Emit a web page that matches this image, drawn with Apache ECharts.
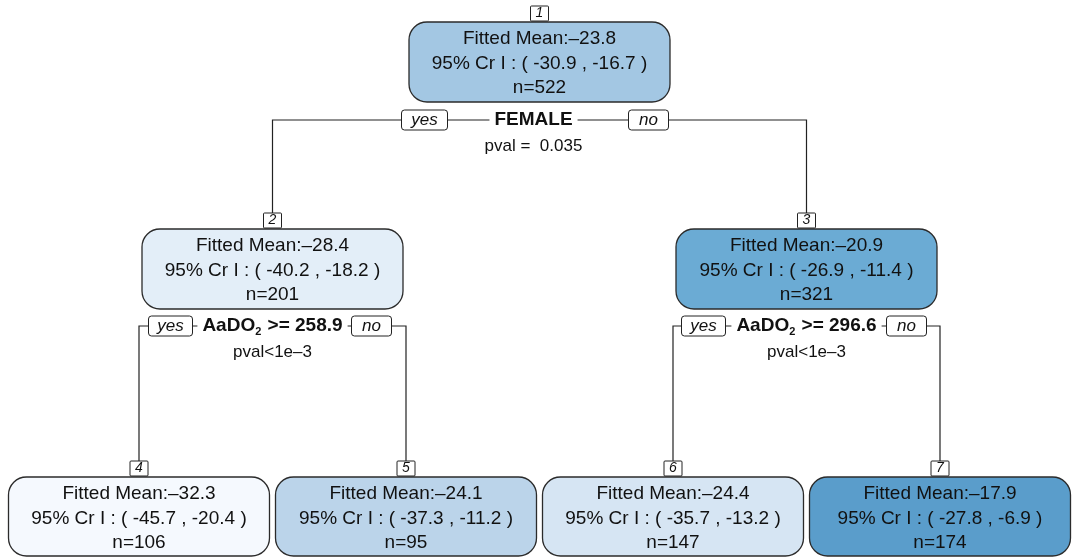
<!DOCTYPE html>
<html><head><meta charset="utf-8">
<script src="https://cdn.jsdelivr.net/npm/echarts@6/dist/echarts.min.js"></script>
<style>html,body{margin:0;padding:0;background:#fff}#c{width:1077px;height:558px}</style>
</head><body><div id="c"></div>
<script>
// ---- data ----
const nodeIds    = [1, 2, 3, 4, 5, 6, 7];
const fittedMean = [-23.8, -28.4, -20.9, -32.3, -24.1, -24.4, -17.9];
const crLow      = [-30.9, -40.2, -26.9, -45.7, -37.3, -35.7, -27.8];
const crHigh     = [-16.7, -18.2, -11.4, -20.4, -11.2, -13.2, -6.9];
const nObs       = [522, 201, 321, 106, 95, 147, 174];
const splitNode  = [1, 2, 3];
const splitVar   = ['FEMALE', 'AaDO2', 'AaDO2'];
const splitValue = [null, 258.9, 296.6];
const splitPval  = ['pval =  0.035', 'pval<1e\u20133', 'pval<1e\u20133'];
const childLeft  = [2, 4, 6];
const childRight = [3, 5, 7];

// ---- layout (styles / positions) ----
const FONT = "'Liberation Sans', Arial, Helvetica, sans-serif";
const palette = ['#f5f9fe', '#e3eef8', '#d6e5f3', '#bbd4ea', '#a3c7e3', '#6babd4', '#5a9dcb'];
const levelTop = [22, 229, 477];
const levelBoxH = [80, 80, 79];
const boxW = 261;
const splitLineY = [120, 326];
const pvalY = [146, 352];
const yesOff = [-115, -102, -103];
const noOff = [109, 99, 100];
const textOff = [-6, 0, 0];
const leafX0 = 139, leafStep = 267;

const kids = {};
splitNode.forEach((p, i) => { kids[p] = [childLeft[i], childRight[i]]; });
const level = {}, xpos = {};
let leafCount = 0;
function layout(id, d) {
  level[id] = d;
  if (kids[id]) {
    kids[id].forEach(k => layout(k, d + 1));
    xpos[id] = (xpos[kids[id][0]] + xpos[kids[id][1]]) / 2;
  } else {
    xpos[id] = leafX0 + leafStep * leafCount++;
  }
}
layout(1, 0);

const sortedMeans = fittedMean.slice().sort((a, b) => a - b);
const colorOf = i => palette[sortedMeans.indexOf(fittedMean[i])];
const fmt = v => (v < 0 ? '\u2013' + Math.abs(v).toFixed(1) : v.toFixed(1));

const nodeData = nodeIds.map(id => [xpos[id], levelTop[level[id]], id]);
const splitData = splitNode.map(id => [xpos[id], splitLineY[level[id]], id]);

function renderNode(params, api) {
  const i = params.dataIndex;
  const id = nodeIds[i];
  const lv = level[id];
  const c = api.coord([api.value(0), api.value(1)]);
  const sz = api.size([boxW, levelBoxH[lv]]);
  const w = sz[0], h = sz[1];
  const x = c[0] - w / 2, y = c[1];
  const txt = (t, ty) => ({
    type: 'text',
    style: { text: t, x: c[0], y: ty, align: 'center', verticalAlign: 'middle',
      fill: '#111', font: '19px ' + FONT }
  });
  return {
    type: 'group',
    children: [
      { type: 'rect', shape: { x: x, y: y, width: w, height: h, r: 18 },
        style: { fill: colorOf(i), stroke: '#2b2b2b', lineWidth: 1.3 } },
      txt('Fitted Mean:' + fmt(fittedMean[i]), y + 17),
      txt('95% Cr I : ( ' + crLow[i].toFixed(1) + ' , ' + crHigh[i].toFixed(1) + ' )', y + 42),
      txt('n=' + nObs[i], y + 66),
      { type: 'rect', shape: { x: c[0] - 9, y: y - 16, width: 18, height: 15, r: 1 },
        style: { fill: '#fff', stroke: '#222', lineWidth: 1 } },
      { type: 'text', style: { text: String(id), x: c[0], y: y - 8.5, align: 'center',
        verticalAlign: 'middle', fill: '#111', font: 'italic 14px ' + FONT } }
    ]
  };
}

function tagBox(cx, cy, label, w) {
  return [
    { type: 'rect', shape: { x: cx - w / 2, y: cy - 10, width: w, height: 20, r: 3 },
      style: { fill: '#fff', stroke: '#222', lineWidth: 1 } },
    { type: 'text', style: { text: label, x: cx, y: cy, align: 'center', verticalAlign: 'middle',
      fill: '#111', font: 'italic 17px ' + FONT } }
  ];
}

function renderSplit(params, api) {
  const i = params.dataIndex;
  const id = splitNode[i];
  const p = api.coord([api.value(0), api.value(1)]);
  const l = api.coord([xpos[childLeft[i]], levelTop[level[childLeft[i]]] - 16]);
  const r = api.coord([xpos[childRight[i]], levelTop[level[childRight[i]]] - 16]);
  const py = api.coord([0, pvalY[level[id]]])[1];
  const lineStyle = { stroke: '#222', lineWidth: 1.2, fill: null };
  let label;
  if (splitValue[i] === null) {
    label = '{b|' + splitVar[i] + '}';
  } else {
    label = '{b|AaDO}{s|2}{b| >= ' + splitValue[i].toFixed(1) + '}';
  }
  return {
    type: 'group',
    children: [
      { type: 'polyline', shape: { points: [[l[0], l[1]], [l[0], p[1]], [r[0], p[1]], [r[0], r[1]]] },
        style: lineStyle },
      { type: 'text', style: {
          text: label, x: p[0] + textOff[i], y: p[1], align: 'center', verticalAlign: 'middle',
          backgroundColor: '#fff', padding: [0, 5],
          rich: {
            b: { font: 'bold 19px ' + FONT, fill: '#111', lineHeight: 22 },
            s: { font: 'bold 11px ' + FONT, fill: '#111', lineHeight: 22, verticalAlign: 'bottom', padding: [9, 1, 0, 0] }
          } } },
      ...tagBox(p[0] + yesOff[i], p[1], 'yes', i === 0 ? 46 : 44),
      ...tagBox(p[0] + noOff[i], p[1], 'no', 40),
      { type: 'text', style: { text: splitPval[i], x: p[0] + textOff[i], y: py, align: 'center',
        verticalAlign: 'middle', fill: '#111', font: '17px ' + FONT } }
    ]
  };
}

const chart = echarts.init(document.getElementById('c'), null, { renderer: 'canvas' });
chart.setOption({
  animation: false,
  backgroundColor: '#fff',
  grid: { left: 0, right: 0, top: 0, bottom: 0 },
  xAxis: { type: 'value', min: 0, max: 1077, show: false },
  yAxis: { type: 'value', min: 0, max: 558, inverse: true, show: false },
  series: [
    { type: 'custom', data: splitData, encode: { x: 0, y: 1 }, clip: false, renderItem: renderSplit, silent: true },
    { type: 'custom', data: nodeData, encode: { x: 0, y: 1 }, clip: false, renderItem: renderNode, silent: true }
  ]
});
</script></body></html>
